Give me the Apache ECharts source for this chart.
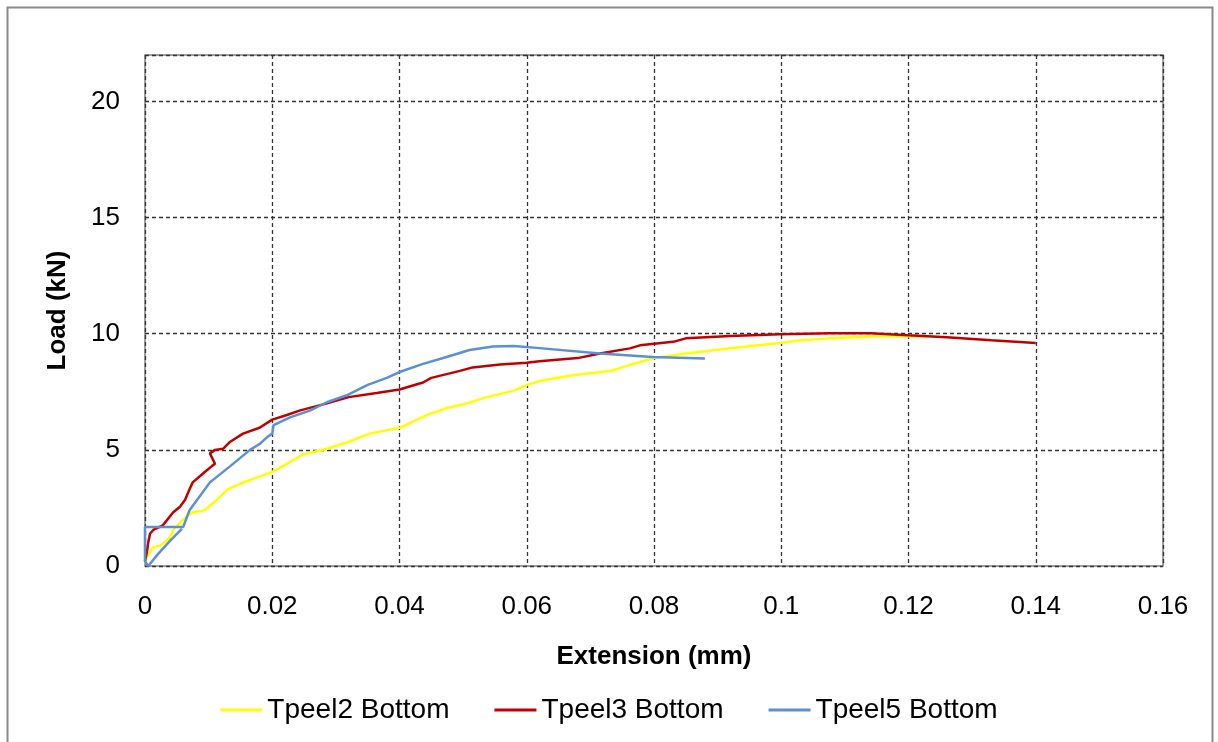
<!DOCTYPE html>
<html>
<head>
<meta charset="utf-8">
<script src="https://cdn.jsdelivr.net/npm/echarts@6/dist/echarts.min.js"></script>
<style>
html,body{margin:0;padding:0;background:#fff;}
#chart{width:1218px;height:742px;}
</style>
</head>
<body>
<div id="chart"></div>
<script>
const xTicks = [0, 0.02, 0.04, 0.06, 0.08, 0.1, 0.12, 0.14, 0.16];
const yTicks = [0, 5, 10, 15, 20];
const seriesNames = ['Tpeel2 Bottom', 'Tpeel3 Bottom', 'Tpeel5 Bottom'];

const tpeel2 = [[0,0.1],[0.0003,0.4],[0.0013,0.8],[0.0025,0.9],[0.004,1.25],[0.0044,1.55],[0.006,2.0],[0.0074,2.3],[0.0094,2.4],[0.0113,2.85],[0.013,3.3],[0.015,3.55],[0.018,3.85],[0.020,4.05],[0.0223,4.4],[0.0248,4.8],[0.0286,5.05],[0.032,5.35],[0.0353,5.7],[0.040,5.95],[0.042,6.2],[0.0443,6.5],[0.0474,6.8],[0.0506,7.0],[0.0537,7.27],[0.058,7.55],[0.060,7.8],[0.0625,8.0],[0.067,8.2],[0.0735,8.42],[0.0767,8.7],[0.080,8.95],[0.085,9.15],[0.092,9.37],[0.0998,9.6],[0.103,9.72],[0.1076,9.8],[0.1144,9.88],[0.118,9.9],[0.123,9.88]];

const tpeel3 = [[0,0.2],[0.0003,0.6],[0.0005,1.0],[0.0008,1.4],[0.0013,1.55],[0.0028,1.75],[0.0044,2.3],[0.0055,2.55],[0.0063,2.85],[0.007,3.3],[0.0075,3.6],[0.0094,4.05],[0.0105,4.3],[0.011,4.4],[0.0102,4.85],[0.011,5.0],[0.0123,5.05],[0.0134,5.35],[0.0154,5.7],[0.018,5.95],[0.020,6.3],[0.0223,6.5],[0.0244,6.7],[0.0286,7.0],[0.032,7.27],[0.0364,7.45],[0.040,7.6],[0.0437,7.9],[0.045,8.1],[0.0495,8.4],[0.0515,8.55],[0.0558,8.68],[0.060,8.75],[0.062,8.82],[0.068,8.95],[0.0715,9.15],[0.0762,9.37],[0.0778,9.5],[0.083,9.65],[0.085,9.8],[0.092,9.9],[0.0998,9.98],[0.1076,10.02],[0.114,10.02],[0.120,9.93],[0.126,9.85],[0.133,9.72],[0.140,9.6]];

const tpeel5 = [[0.0058,1.6],[0.004,1.1],[0.002,0.5],[0.0005,0.0],[0,0.2],[0,1.68],[0.006,1.68],[0.007,2.4],[0.0102,3.6],[0.0134,4.3],[0.0165,5.0],[0.018,5.25],[0.0192,5.55],[0.020,5.7],[0.0202,6.06],[0.0228,6.4],[0.026,6.7],[0.0286,7.05],[0.0317,7.35],[0.035,7.8],[0.038,8.1],[0.040,8.35],[0.0437,8.7],[0.0474,9.0],[0.051,9.3],[0.0547,9.45],[0.058,9.47],[0.062,9.38],[0.0715,9.15],[0.0798,9.0],[0.088,8.93]];

const colors = ['#FFFF00', '#C00000', '#5B8FD6'];
const FONT = "'Liberation Sans', Arial, sans-serif";

const chart = echarts.init(document.getElementById('chart'), null, {renderer: 'canvas'});
chart.setOption({
  animation: false,
  backgroundColor: '#ffffff',
  graphic: [{
    type: 'rect', silent: true,
    shape: {x: 7.5, y: 7.5, width: 1205, height: 760},
    style: {fill: 'none', stroke: '#8a8a8a', lineWidth: 2}
  }],
  grid: {left: 145, top: 55, right: 55, bottom: 176, show: true, borderColor: '#808080', borderWidth: 1.5, backgroundColor: 'transparent'},
  xAxis: {
    type: 'value', min: xTicks[0], max: xTicks[xTicks.length - 1], interval: 0.02,
    name: 'Extension (mm)', nameLocation: 'middle', nameGap: 78,
    nameTextStyle: {fontFamily: FONT, fontSize: 26, fontWeight: 'bold', color: '#000'},
    axisLine: {show: false}, axisTick: {show: false},
    axisLabel: {fontFamily: FONT, fontSize: 26, color: '#000', margin: 28,
      formatter: v => { const t = xTicks.find(k => Math.abs(k - v) < 1e-9); return t === undefined ? '' : String(t); }},
    splitLine: {show: true, lineStyle: {color: '#333333', type: [4, 3], width: 1.3}}
  },
  yAxis: {
    type: 'value', min: 0, max: 22, interval: 5,
    name: 'Load (kN)', nameLocation: 'middle', nameGap: 74,
    nameTextStyle: {fontFamily: FONT, fontSize: 26, fontWeight: 'bold', color: '#000'},
    axisLine: {show: false}, axisTick: {show: false},
    axisLabel: {fontFamily: FONT, fontSize: 26, color: '#000', margin: 25, showMaxLabel: false,
      formatter: v => yTicks.indexOf(v) >= 0 ? String(v) : ''},
    splitLine: {show: true, lineStyle: {color: '#333333', type: [4, 3], width: 1.3}}
  },
  legend: {
    bottom: 13, left: 'center', itemWidth: 42, itemHeight: 3, itemGap: 45,
    textStyle: {fontFamily: FONT, fontSize: 28, color: '#000'},
    data: seriesNames.map(n => ({name: n, icon: 'rect'}))
  },
  series: [
    {name: seriesNames[0], type: 'line', data: tpeel2, symbol: 'none', lineStyle: {color: colors[0], width: 2.5}, itemStyle: {color: colors[0]}, z: 2},
    {name: seriesNames[1], type: 'line', data: tpeel3, symbol: 'none', lineStyle: {color: colors[1], width: 2.5}, itemStyle: {color: colors[1]}, z: 3},
    {name: seriesNames[2], type: 'line', data: tpeel5, symbol: 'none', lineStyle: {color: colors[2], width: 2.5}, itemStyle: {color: colors[2]}, z: 4}
  ]
});
</script>
</body>
</html>
